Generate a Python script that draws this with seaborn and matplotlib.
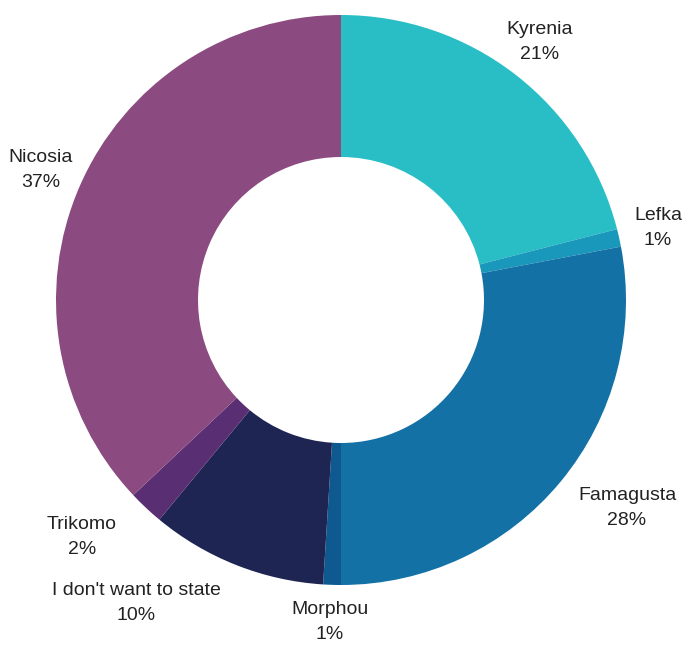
import matplotlib
matplotlib.use("Agg")
import matplotlib.pyplot as plt
import seaborn as sns

# Share of respondents by district
districts = ["Kyrenia", "Lefka", "Famagusta", "Morphou",
             "I don't want to state", "Trikomo", "Nicosia"]
shares = [21, 1, 28, 1, 10, 2, 37]
colors = ["#29BEC6", "#1A98BB", "#1471A6", "#0E5A90",
          "#1F2553", "#5A2E72", "#8C4B80"]

# Label anchor points (figure pixel coordinates, y downward)
label_x = [540, 658, 627, 330, 136, 82, 41]
label_y = [42, 228, 508, 622, 603, 537, 170]

sns.set_theme(style="white")
plt.rcParams["font.family"] = ["Liberation Sans", "DejaVu Sans"]

W, H = 692, 645
fig = plt.figure(figsize=(W / 100, H / 100), dpi=100)
ax = fig.add_axes([0, 0, 1, 1])

cx, cy, R = 341, 300, 285
# y axis runs downward, so startangle=-90 is the top and
# counter-clockwise in data space reads clockwise on screen
ax.pie(
    shares,
    colors=sns.color_palette(colors),
    startangle=-90,
    counterclock=True,
    center=(cx, cy),
    radius=R,
    wedgeprops=dict(width=R - 143, linewidth=0),
    frame=True,
)
ax.set_xlim(0, W)
ax.set_ylim(H, 0)
ax.set_aspect("equal")
ax.axis("off")

for name, val, x, y in zip(districts, shares, label_x, label_y):
    ax.text(x, y, f"{name}\n{val}%", ha="center", va="center",
            fontsize=14, color="#222222", linespacing=1.62)

fig.savefig("out.png", dpi=100)
